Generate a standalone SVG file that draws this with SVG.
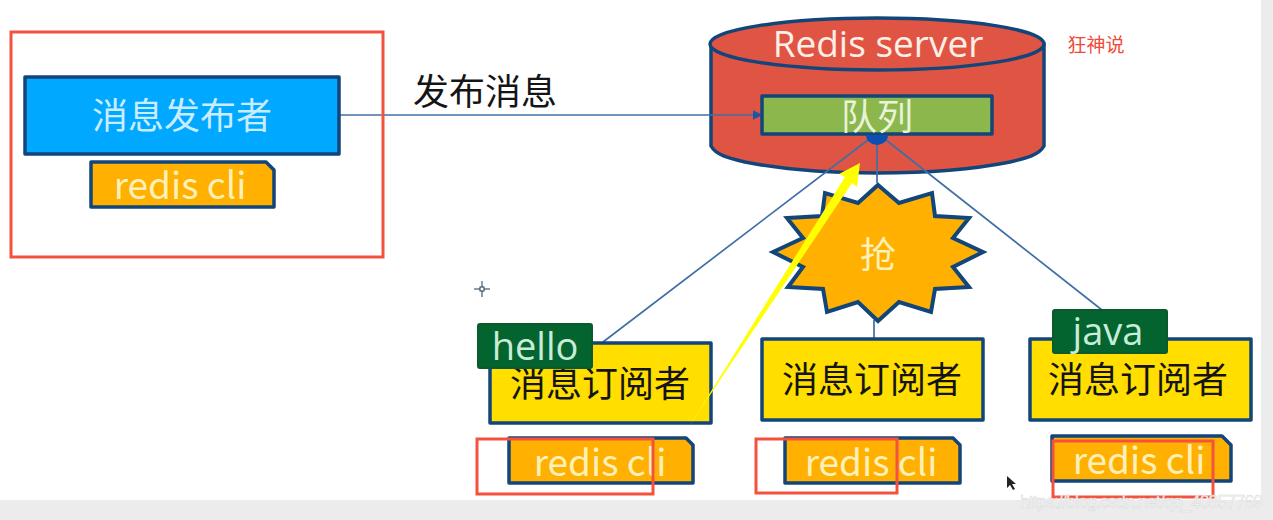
<svg xmlns="http://www.w3.org/2000/svg" width="1273" height="520" viewBox="0 0 1273 520">
<defs>
<marker id="a" markerWidth="6" markerHeight="6" refX="5" refY="3" orient="auto"><path d="M0 0L6 3L0 6z" fill="#1f55a5"/></marker>
</defs>
<style>
text{font-family:"Noto Sans CJK SC","Noto Sans",sans-serif;text-anchor:middle}
.n{stroke:#12467a;stroke-width:3.5;stroke-linejoin:round}
.sub{fill:#ffde00}
.cli{fill:#ffb000}
.lt{fill:#fdf0b8;font-size:37px}
.dk{fill:#141414;font-size:36px}
.g{fill:#03642f;stroke:#0b5a2c;stroke-width:2;stroke-linejoin:round}
.gt{fill:#c8ecd8;font-size:38px;font-family:"Open Sans",sans-serif}
.r{fill:none;stroke:#f4523f;stroke-width:3}
.c{fill:none;stroke:#3f6fa5;stroke-width:1.7}
</style>
<rect width="1273" height="520" fill="#fff"/>
<path d="M0 500H1273V520H0zM1261 0H1273V520H1261z" fill="#ececec"/>
<g id="server">
<path class="n" d="M711 44V146C716 155 728 158 745 162C785 170 830 173 877 173C925 173 970 170 1010 162C1027 158 1039 155 1044 146V44z" fill="#e05444"/>
<ellipse class="n" cx="877" cy="44" rx="167" ry="26" fill="#e05444"/>
<text x="878" y="57" font-size="37" fill="#fdeee6" style="font-family:'Open Sans',sans-serif">Redis server</text>
</g>
<g id="connectors">
<path class="c" d="M340 115H761" marker-end="url(#a)"/>
<path class="c" d="M868 140L603 342M877 144V183M886 140L1102 310M874 320V339"/>
</g>
<g id="queue">
<rect class="n" x="762" y="96" width="230" height="38" fill="#8bb74c"/>
<text x="877" y="130" font-size="36" fill="#e8f3d8">队列</text>
<path d="M866 135a11 10 0 0 0 22 0z" fill="#0b4fb0"/>
</g>
<g id="burst">
<path d="M878 185L899 203L932 193L935 216L969 218L953 238L983 252L953 267L969 287L935 289L931 312L899 302L878 321L858 302L827 312L823 289L788 287L803 267L773 252L803 238L787 218L822 216L825 193L858 203z" fill="#ffb000" stroke="#12467a" stroke-width="4" stroke-miterlimit="10"/>
<text x="878" y="268" font-size="36" fill="#fdf0b8">抢</text>
</g>
<g id="publisher">
<rect class="n" x="25" y="77" width="314" height="77" fill="#00a9ff"/>
<text x="182" y="129" font-size="36" fill="#c9ecff">消息发布者</text>
<path class="n" d="M91 162H266L274 170V207H91z" fill="#ffb000"/>
<text x="180" y="199" class="lt">redis cli</text>
</g>
<text id="publish-label" x="485" y="105" font-size="36" fill="#151515">发布消息</text>
<g id="sub1">
<rect class="n sub" x="490" y="343" width="221" height="80"/>
<text x="600" y="397" class="dk">消息订阅者</text>
<path class="n cli" d="M509 438H686L693 445V483H509z"/>
<text x="600" y="476" class="lt">redis cli</text>
<rect class="g" x="478" y="324" width="114" height="44" rx="2"/>
<text x="535" y="360" class="gt">hello</text>
</g>
<g id="sub2">
<rect class="n sub" x="762" y="339" width="221" height="81"/>
<text x="872" y="393" class="dk">消息订阅者</text>
<path class="n cli" d="M785 438H953L960 445V483H785z"/>
<text x="871" y="476" class="lt">redis cli</text>
</g>
<g id="sub3">
<rect class="n sub" x="1030" y="339" width="221" height="81"/>
<text x="1138" y="393" class="dk">消息订阅者</text>
<path class="n cli" d="M1052 436H1222L1231 445V481H1052z"/>
<text x="1139" y="474" class="lt">redis cli</text>
<rect class="g" x="1053" y="310" width="114" height="43" rx="2"/>
<text x="1108" y="345" class="gt">java</text>
</g>
<g id="annotations">
<path d="M690 425L845 177L839 174L860 163L857 187L852 183z" fill="#ffff00"/>
<rect class="r" x="11" y="32" width="372" height="225"/>
<rect class="r" x="477" y="439" width="176" height="55"/>
<rect class="r" x="756" y="439" width="141" height="54"/>
<rect class="r" x="1053" y="441" width="160" height="56"/>
<text x="1096" y="52" font-size="19" fill="#f04a3a">狂神说</text>
<path d="M474 289H490M482 281V297" stroke="#1f3a55" stroke-width="1"/><rect x="480" y="287" width="4" height="4" fill="#fff" stroke="#1f3a55" stroke-width="1"/>
<path d="M1007 476V488L1010 485L1013 490L1015 489L1012 484L1016 484z" fill="#222"/>
<text x="1263" y="508" font-size="17.5" fill="#f6f6f6" stroke="#d4d4d4" stroke-width=".4" textLength="243" style="text-anchor:end;font-family:'Liberation Sans',sans-serif">https://blog.csdn.net/qq_40857769</text>
</g>
</svg>
